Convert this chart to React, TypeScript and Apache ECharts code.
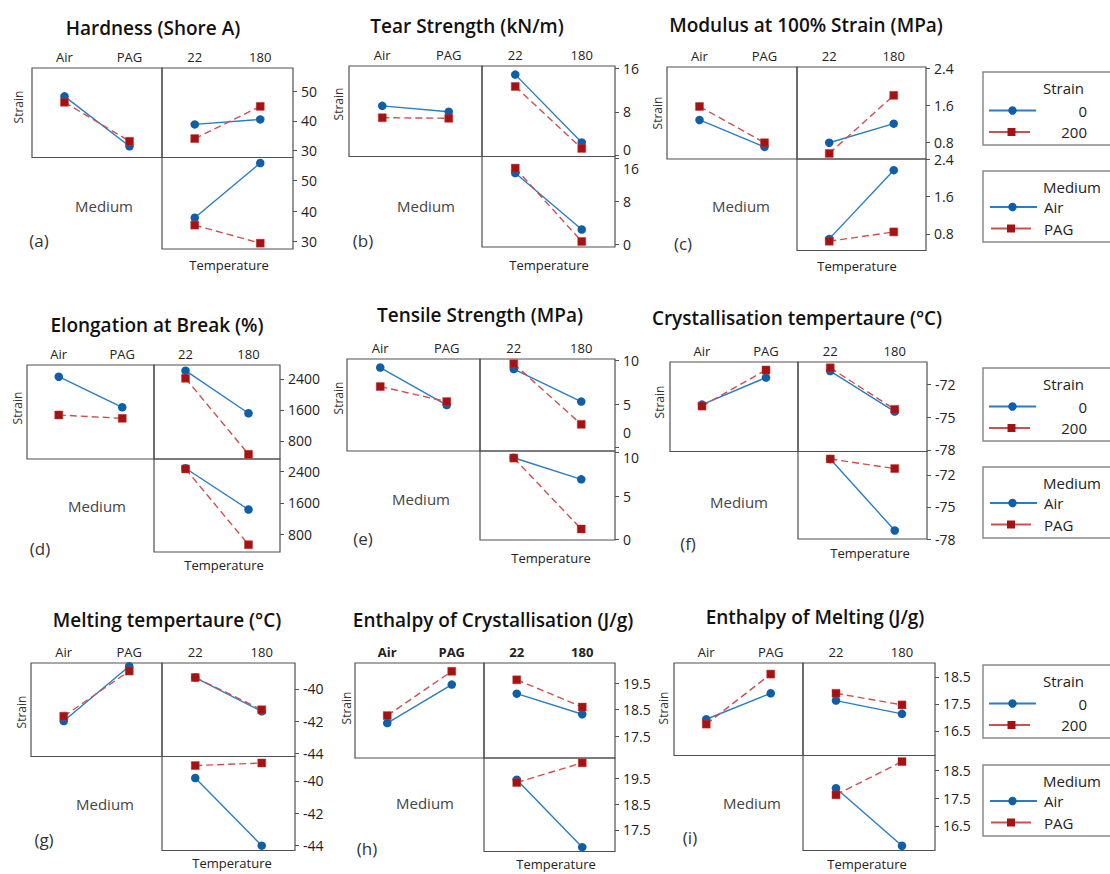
import React, { useEffect, useRef } from 'react';
import * as echarts from 'echarts';

// Factor levels
const mediumLevels = ['Air', 'PAG'];
const temperatureLevels = ['22', '180'];
const strainLevels = ['0', '200'];

// Each "XStrain" array: [Strain 0 means, Strain 200 means]; each "XMedium": [Air means, PAG means]
// (a) Hardness (Shore A)
const hardnessMediumXStrain = [[48.3, 31.4], [46.3, 33.1]];
const hardnessTempXStrain = [[38.8, 40.5], [34.0, 44.9]];
const hardnessTempXMedium = [[37.8, 55.7], [35.4, 29.5]];
const hardnessTicks = [30, 40, 50];

// (b) Tear Strength (kN/m)
const tearMediumXStrain = [[9.1, 8.0], [6.9, 6.8]];
const tearTempXStrain = [[14.9, 2.3], [12.7, 1.2]];
const tearTempXMedium = [[13.2, 2.8], [14.1, 0.6]];
const tearTicks = [0, 8, 16];

// (c) Modulus at 100% Strain (MPa)
const modulusMediumXStrain = [[1.29, 0.71], [1.58, 0.8]];
const modulusTempXStrain = [[0.8, 1.21], [0.57, 1.82]];
const modulusTempXMedium = [[0.69, 2.17], [0.64, 0.84]];
const modulusTicks = [0.8, 1.6, 2.4];

// (d) Elongation at Break (%)
const elongationMediumXStrain = [[2459, 1670], [1471, 1385]];
const elongationTempXStrain = [[2614, 1515], [2418, 457]];
const elongationTempXMedium = [[2487, 1429], [2470, 527]];
const elongationTicks = [800, 1600, 2400];

// (e) Tensile Strength (MPa)
const tensileMediumXStrain = [[9.22, 4.9], [7.03, 5.3]];
const tensileTempXStrain = [[9.04, 5.3], [9.65, 2.69]];
const tensileTempXMedium = [[9.42, 6.93], [9.38, 1.19]];
const tensileTicks = [0, 5, 10];

// (f) Crystallisation temperature (°C)
const crystTMediumXStrain = [[-73.86, -71.39], [-74.0, -70.7]];
const crystTTempXStrain = [[-70.8, -74.5], [-70.5, -74.3]];
const crystTTempXMedium = [[-70.5, -77.2], [-70.5, -71.4]];
const crystTTicks = [-78, -75, -72];

// (g) Melting temperature (°C)
const meltTMediumXStrain = [[-42.0, -38.6], [-41.7, -38.9]];
const meltTTempXStrain = [[-39.3, -41.4], [-39.3, -41.3]];
const meltTTempXMedium = [[-39.83, -44.0], [-39.06, -38.9]];
const meltTTicks = [-44, -42, -40];

// (h) Enthalpy of Crystallisation (J/g)
const enthCrystMediumXStrain = [[18.0, 19.44], [18.28, 19.94]];
const enthCrystTempXStrain = [[19.1, 18.33], [19.62, 18.6]];
const enthCrystTempXMedium = [[19.46, 16.82], [19.35, 20.12]];
const enthCrystTicks = [17.5, 18.5, 19.5];

// (i) Enthalpy of Melting (J/g)
const enthMeltMediumXStrain = [[16.93, 17.89], [16.75, 18.6]];
const enthMeltTempXStrain = [[17.62, 17.13], [17.89, 17.46]];
const enthMeltTempXMedium = [[17.86, 15.78], [17.62, 18.82]];
const enthMeltTicks = [16.5, 17.5, 18.5];

const FONT = "'Open Sans', 'Noto Sans', sans-serif";
const BLUE_LINE = '#2a7cc4';
const BLUE_MARK = '#0f5ea8';
const RED_LINE = '#cc5050';
const RED_MARK = '#a51212';
const BORDER = '#505050';
const TEXT = '#222';
const TICK_FONT = 14;

const panels = [
  { title: 'Hardness (Shore A)', letter: '(a)', ms: hardnessMediumXStrain, ts: hardnessTempXStrain, tm: hardnessTempXMedium, ticks: hardnessTicks, dec: 0,
    x: [32, 162, 293], y: [68, 157.5, 249], topR: [27.6, 57.9], botR: [27.6, 57.5],
    titleP: [153, 28], strainP: [18, 107], mediumP: [104, 206], letterP: [39, 240], tempP: [229, 265] },
  { title: 'Tear Strength (kN/m)', letter: '(b)', ms: tearMediumXStrain, ts: tearTempXStrain, tm: tearTempXMedium, ticks: tearTicks, dec: 0,
    x: [349, 482, 615], y: [66, 156.5, 247], topR: [-0.3, 16.5], botR: [-0.42, 16.24], topShift: { 0: -5 }, botShift: { 16: 11 },
    titleP: [467, 26], strainP: [338, 104], mediumP: [426, 206], letterP: [363, 240], tempP: [549, 265] },
  { title: 'Modulus at 100% Strain (MPa)', letter: '(c)', ms: modulusMediumXStrain, ts: modulusTempXStrain, tm: modulusTempXMedium, ticks: modulusTicks, dec: 1,
    x: [667, 797, 926], y: [67, 159, 250.5], topR: [0.45, 2.43], botR: [0.44, 2.41],
    titleP: [806, 25], strainP: [657, 113], mediumP: [741, 206], letterP: [683, 243], tempP: [857, 266] },
  { title: 'Elongation at Break (%)', letter: '(d)', ms: elongationMediumXStrain, ts: elongationTempXStrain, tm: elongationTempXMedium, ticks: elongationTicks, dec: 0,
    x: [27, 154, 280], y: [365, 459, 552], topR: [335, 2761], botR: [340, 2725],
    titleP: [157, 325], strainP: [17, 408], mediumP: [97, 506], letterP: [40, 548], tempP: [224, 565] },
  { title: 'Tensile Strength (MPa)', letter: '(e)', ms: tensileMediumXStrain, ts: tensileTempXStrain, tm: tensileTempXMedium, ticks: tensileTicks, dec: 0,
    x: [347, 480, 615], y: [359, 451, 540], topR: [-0.38, 10.2], botR: [-0.08, 10.2], topShift: { 0: -15 }, botShift: { 10: 5 },
    titleP: [480, 315], strainP: [338, 398], mediumP: [421, 499], letterP: [363, 538], tempP: [551, 558] },
  { title: 'Crystallisation tempertaure (°C)', letter: '(f)', ms: crystTMediumXStrain, ts: crystTTempXStrain, tm: crystTTempXMedium, ticks: crystTTicks, dec: 0,
    x: [670, 798, 927], y: [362, 451.5, 539], topR: [-78.15, -69.97], botR: [-78.0, -69.8],
    titleP: [797, 318], strainP: [659, 402], mediumP: [739, 502], letterP: [688, 543], tempP: [870, 553] },
  { title: 'Melting tempertaure (°C)', letter: '(g)', ms: meltTMediumXStrain, ts: meltTTempXStrain, tm: meltTTempXMedium, ticks: meltTTicks, dec: 0,
    x: [31, 162, 295], y: [663, 756.5, 850.5], topR: [-44.2, -38.4], botR: [-44.3, -38.5],
    titleP: [167, 620], strainP: [21, 712], mediumP: [105, 804], letterP: [44, 839], tempP: [232, 863] },
  { title: 'Enthalpy of Crystallisation (J/g)', letter: '(h)', ms: enthCrystMediumXStrain, ts: enthCrystTempXStrain, tm: enthCrystTempXMedium, ticks: enthCrystTicks, dec: 1, boldCats: true,
    x: [355, 484, 615], y: [663, 758, 851.5], topR: [16.69, 20.25], botR: [16.65, 20.31],
    titleP: [493, 620], strainP: [346, 708], mediumP: [425, 803], letterP: [367, 848], tempP: [556, 864] },
  { title: 'Enthalpy of Melting (J/g)', letter: '(i)', ms: enthMeltMediumXStrain, ts: enthMeltTempXStrain, tm: enthMeltTempXMedium, ticks: enthMeltTicks, dec: 1,
    x: [674, 803, 935], y: [663, 755.5, 850.5], topR: [15.59, 19.01], botR: [15.61, 19.04],
    titleP: [815, 617], strainP: [663, 708], mediumP: [752, 803], letterP: [690, 837], tempP: [867, 864] },
];

const legendRows = [
  { strainTop: 72, mediumTop: 171 },
  { strainTop: 368, mediumTop: 467 },
  { strainTop: 665, mediumTop: 765 },
];

function labelCfg(ticks: number[], dec: number, shift?: Record<string, number>) {
  const rich: any = {};
  if (shift) {
    Object.keys(shift).forEach((k, i) => {
      const s = shift[k];
      rich['s' + i] = {
        fontSize: TICK_FONT, fontFamily: FONT, color: TEXT,
        padding: s > 0 ? [2 * s, 0, 0, 0] : [0, 0, -2 * s, 0],
      };
    });
  }
  return {
    show: true,
    customValues: ticks,
    margin: 8,
    fontSize: TICK_FONT,
    fontFamily: FONT,
    color: TEXT,
    rich,
    formatter: (v: number) => {
      const s = v.toFixed(dec);
      if (shift) {
        const keys = Object.keys(shift);
        const idx = keys.findIndex((k) => Math.abs(Number(k) - v) < 1e-9);
        if (idx >= 0) return `{s${idx}|${s}}`;
      }
      return s;
    },
  };
}

function buildOption() {
  const grid: any[] = [];
  const xAxis: any[] = [];
  const yAxis: any[] = [];
  const series: any[] = [];
  const graphic: any[] = [];

  const gridBase = { show: true, borderColor: BORDER, borderWidth: 1.2, backgroundColor: 'rgba(0,0,0,0)', containLabel: false, outerBoundsMode: 'none' };

  panels.forEach((p: any) => {
    const [x0, x1, x2] = p.x;
    const [y0, y1, y2] = p.y;
    const subs = [
      { rect: [x0, y0, x1 - x0, y1 - y0], cats: mediumLevels, showX: true, range: p.topR, showY: false, data: p.ms, shift: null },
      { rect: [x1, y0, x2 - x1, y1 - y0], cats: temperatureLevels, showX: true, range: p.topR, showY: true, data: p.ts, shift: p.topShift },
      { rect: [x1, y1, x2 - x1, y2 - y1], cats: temperatureLevels, showX: false, range: p.botR, showY: true, data: p.tm, shift: p.botShift },
    ];
    subs.forEach((s) => {
      const idx = grid.length;
      grid.push({ ...gridBase, left: s.rect[0], top: s.rect[1], width: s.rect[2], height: s.rect[3] });
      xAxis.push({
        gridIndex: idx, type: 'category', data: s.cats, position: 'top', boundaryGap: true,
        axisLine: { show: false }, axisTick: { show: false }, splitLine: { show: false },
        axisLabel: { show: s.showX, margin: 5, fontSize: 13, fontFamily: FONT, color: TEXT, fontWeight: p.boldCats ? 'bold' : 'normal' },
      });
      yAxis.push({
        gridIndex: idx, type: 'value', position: 'right', min: s.range[0], max: s.range[1], show: s.showY,
        axisLine: { show: false }, splitLine: { show: false },
        axisTick: { show: true, customValues: p.ticks, length: 4, inside: false, lineStyle: { color: BORDER, width: 1 } },
        axisLabel: labelCfg(p.ticks, p.dec, s.shift || undefined),
      });
      series.push({
        type: 'line', xAxisIndex: idx, yAxisIndex: idx, data: s.data[0], symbol: 'circle', symbolSize: 8.5,
        itemStyle: { color: BLUE_MARK }, lineStyle: { color: BLUE_LINE, width: 1.4 }, silent: true,
      });
      series.push({
        type: 'line', xAxisIndex: idx, yAxisIndex: idx, data: s.data[1], symbol: 'rect', symbolSize: 8,
        itemStyle: { color: RED_MARK, borderColor: '#c23a3a', borderWidth: 0.5 }, lineStyle: { color: RED_LINE, width: 1.4, type: [7, 4] }, silent: true,
      });
    });

    graphic.push({ type: 'text', x: p.titleP[0], y: p.titleP[1], style: { text: p.title, fontSize: 19, fontWeight: 600, fontFamily: FONT, fill: '#111', align: 'center', verticalAlign: 'middle' } });
    graphic.push({ type: 'text', x: p.strainP[0], y: p.strainP[1], rotation: Math.PI / 2, style: { text: 'Strain', fontSize: 12, fontFamily: FONT, fill: '#333', align: 'center', verticalAlign: 'middle' } });
    graphic.push({ type: 'text', x: p.mediumP[0], y: p.mediumP[1], style: { text: 'Medium', fontSize: 15, fontFamily: FONT, fill: '#444', align: 'center', verticalAlign: 'middle' } });
    graphic.push({ type: 'text', x: p.letterP[0], y: p.letterP[1], style: { text: p.letter, fontSize: 17, fontFamily: FONT, fill: '#333', align: 'center', verticalAlign: 'middle' } });
    graphic.push({ type: 'text', x: p.tempP[0], y: p.tempP[1], style: { text: 'Temperature', fontSize: 13, fontFamily: FONT, fill: TEXT, align: 'center', verticalAlign: 'middle' } });
  });

  legendRows.forEach((r) => {
    const st = r.strainTop;
    const mt = r.mediumTop;
    const txt = (text: string, x: number, y: number, align: string) => ({
      type: 'text', x, y, style: { text, fontSize: 15, fontFamily: FONT, fill: TEXT, align, verticalAlign: 'middle' },
    });
    graphic.push({ type: 'rect', shape: { x: 983, y: st, width: 140, height: 73 }, style: { fill: '#fff', stroke: '#8a8a8a', lineWidth: 1.5 } });
    graphic.push(txt('Strain', 1043, st + 16, 'left'));
    graphic.push({ type: 'line', shape: { x1: 989, y1: st + 38.5, x2: 1036, y2: st + 38.5 }, style: { stroke: BLUE_LINE, lineWidth: 1.8 } });
    graphic.push({ type: 'circle', shape: { cx: 1012.5, cy: st + 38.5, r: 4.2 }, style: { fill: BLUE_MARK } });
    graphic.push(txt(strainLevels[0], 1087, st + 38.5, 'right'));
    graphic.push({ type: 'line', shape: { x1: 989, y1: st + 60, x2: 1030, y2: st + 60 }, style: { stroke: RED_LINE, lineWidth: 1.8 } });
    graphic.push({ type: 'rect', shape: { x: 1007.5, y: st + 56, width: 8, height: 8 }, style: { fill: RED_MARK } });
    graphic.push(txt(strainLevels[1], 1087, st + 60, 'right'));

    graphic.push({ type: 'rect', shape: { x: 983, y: mt, width: 140, height: 71 }, style: { fill: '#fff', stroke: '#8a8a8a', lineWidth: 1.5 } });
    graphic.push(txt('Medium', 1043, mt + 15.5, 'left'));
    graphic.push({ type: 'line', shape: { x1: 990, y1: mt + 36, x2: 1037, y2: mt + 36 }, style: { stroke: BLUE_LINE, lineWidth: 1.8 } });
    graphic.push({ type: 'circle', shape: { cx: 1012.5, cy: mt + 36, r: 4.2 }, style: { fill: BLUE_MARK } });
    graphic.push(txt(mediumLevels[0], 1044, mt + 36, 'left'));
    graphic.push({ type: 'line', shape: { x1: 991, y1: mt + 57.5, x2: 1031, y2: mt + 57.5 }, style: { stroke: RED_LINE, lineWidth: 1.8 } });
    graphic.push({ type: 'rect', shape: { x: 1007, y: mt + 53.5, width: 8, height: 8 }, style: { fill: RED_MARK } });
    graphic.push(txt(mediumLevels[1], 1044, mt + 57.5, 'left'));
  });

  return { animation: false, backgroundColor: '#fff', grid, xAxis, yAxis, series, graphic };
}

export default function App() {
  const ref = useRef<HTMLDivElement>(null);
  useEffect(() => {
    if (!ref.current) return;
    const chart = echarts.init(ref.current, undefined, { renderer: 'svg' });
    chart.setOption(buildOption() as any);
    return () => chart.dispose();
  }, []);
  return <div ref={ref} style={{ position: 'absolute', left: 0, top: 0, width: 1110, height: 874 }} />;
}
